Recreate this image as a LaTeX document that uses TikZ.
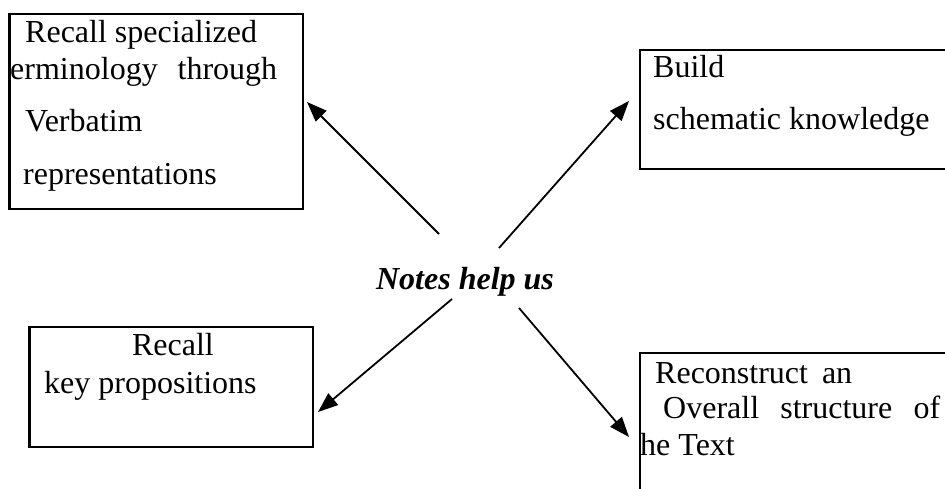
\documentclass[tikz,border=0pt]{standalone}
\usepackage{fontspec}
\setmainfont{Liberation Serif}
\usetikzlibrary{arrows.meta}
\begin{document}
\begin{tikzpicture}
  [x=1pt, y=-1pt,
   box/.style={rectangle, draw=black, line width=2.5pt, inner sep=0pt},
   txt/.style={anchor=base west, inner sep=0pt, font=\fontsize{32}{38}\selectfont},
   flecha/.style={line width=1.8pt, draw=black, -{Triangle[length=20pt, width=15pt]}}]

  \useasboundingbox (0,0) rectangle (945,489);
  \clip (0,0) rectangle (945,489);

  % Cajas
  \node[box, minimum width=293.5pt, minimum height=195pt] (b1) at (156.25,111.5) {};
  \node[box, minimum width=325pt, minimum height=119pt] (b2) at (802.5,109.5) {};
  \node[box, minimum width=283.5pt, minimum height=120pt] (b3) at (171.25,387) {};
  \node[box, minimum width=325pt, minimum height=167pt] (b4) at (802.5,436.5) {};

  % Textos de las cajas
  \node[txt] (b1a) at (25,43) {Recall specialized};
  \node[txt] (b1b) at (10,80) {\makebox[267pt][s]{erminology through}};
  \node[txt] (b1c) at (25,132) {Verbatim};
  \node[txt] (b1d) at (23,185) {representations};

  \node[txt] (b2a) at (653,78) {Build};
  \node[txt] (b2b) at (653,130) {schematic knowledge};

  \node[txt, anchor=base] (b3a) at (173,355) {Recall};
  \node[txt] (b3b) at (44,393) {key propositions};

  \node[txt] (b4a) at (655,383) {\makebox[197pt][s]{Reconstruct an}};
  \node[txt] (b4b) at (663,418) {\makebox[277pt][s]{Overall structure of}};
  \node[txt] (b4c) at (640,455) {he Text};

  % Centro
  \node[txt, anchor=base, font=\fontsize{32}{38}\selectfont\bfseries\itshape] (notes) at (465,289) {Notes help us};

  % Flechas
  \coordinate (s1) at (439,234);
  \coordinate (t1) at (307,102);
  \coordinate (s2) at (499,248);
  \coordinate (t2) at (629,101);
  \coordinate (s3) at (452,299);
  \coordinate (t3) at (318,412);
  \coordinate (s4) at (519,308);
  \coordinate (t4) at (629,437);
  \foreach \from/\to in {s1/t1, s2/t2, s3/t3, s4/t4}
    \draw[flecha] (\from) -- (\to);
\end{tikzpicture}
\end{document}
